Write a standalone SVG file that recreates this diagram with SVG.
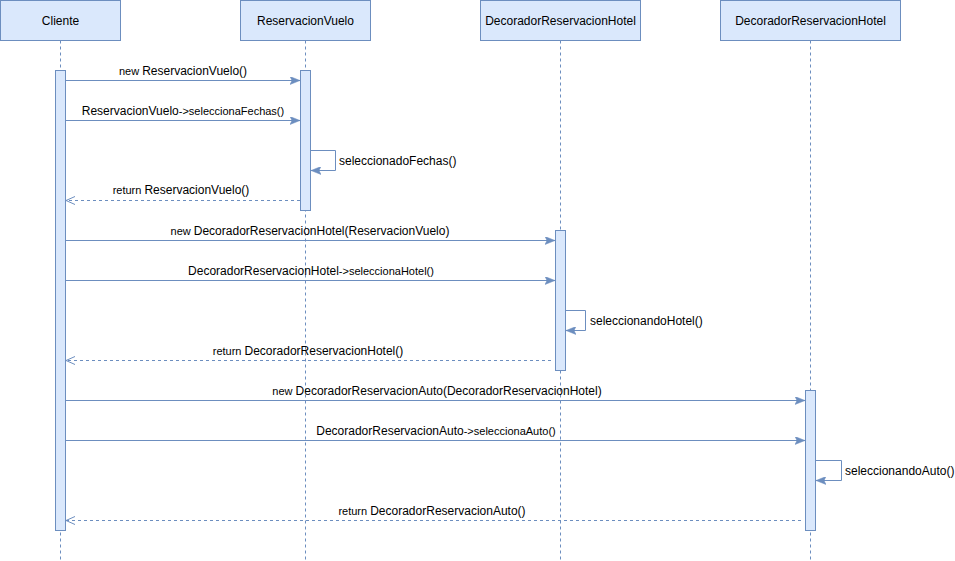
<svg xmlns="http://www.w3.org/2000/svg" width="955" height="561" viewBox="0 0 955 561">
<style>
.box{fill:#dae8fc;stroke:#6c8ebf;stroke-width:1}
.life{stroke:#6c8ebf;stroke-width:1;stroke-dasharray:3 3;fill:none}
.act{fill:#dae8fc;stroke:#6c8ebf;stroke-width:1}
.msg{stroke:#6c8ebf;stroke-width:1;fill:none}
.ret{stroke:#6c8ebf;stroke-width:1;fill:none;stroke-dasharray:3 3}
text{font-family:"Liberation Sans",Arial,sans-serif;fill:#000}
.h{font-size:12px;text-anchor:middle}
.l{font-size:11px;text-anchor:middle}
.s{font-size:12px}
.b{font-size:12px}
</style>
<defs>
<marker id="arr" markerWidth="10" markerHeight="8" refX="10" refY="4" orient="auto" markerUnits="userSpaceOnUse">
<path d="M0,0 L10,4 L0,8 L2,4 Z" fill="#6c8ebf" stroke="#6c8ebf" stroke-width="0.5"/>
</marker>
<marker id="open" markerWidth="10" markerHeight="10" refX="10" refY="5" orient="auto" markerUnits="userSpaceOnUse">
<path d="M1,1 L10,5 L1,9" fill="none" stroke="#6c8ebf" stroke-width="1"/>
</marker>
</defs>

<g id="cliente">
<rect class="box" x="0.5" y="0.5" width="120" height="40"/>
<text class="h" x="60.5" y="24.5">Cliente</text>
<line class="life" x1="60.5" y1="40.5" x2="60.5" y2="560"/>
<rect class="act" x="55.5" y="70.5" width="10" height="460"/>
</g>

<g id="reservacionVuelo">
<rect class="box" x="240.5" y="0.5" width="130" height="40"/>
<text class="h" x="305.5" y="24.5">ReservacionVuelo</text>
<line class="life" x1="305.5" y1="40.5" x2="305.5" y2="560"/>
<rect class="act" x="300.5" y="70.5" width="10" height="140"/>
</g>

<g id="decoradorHotel">
<rect class="box" x="480.5" y="0.5" width="160" height="40"/>
<text class="h" x="560.5" y="24.5">DecoradorReservacionHotel</text>
<line class="life" x1="560.5" y1="40.5" x2="560.5" y2="560"/>
<rect class="act" x="555.5" y="230.5" width="10" height="140"/>
</g>

<g id="decoradorAuto">
<rect class="box" x="720.5" y="0.5" width="180" height="40"/>
<text class="h" x="810.5" y="24.5">DecoradorReservacionHotel</text>
<line class="life" x1="810.5" y1="40.5" x2="810.5" y2="560"/>
<rect class="act" x="805.5" y="390.5" width="10" height="140"/>
</g>

<g id="connectors">
<line class="msg" x1="65.5" y1="80.5" x2="300" y2="80.5" marker-end="url(#arr)"/>
<text class="l" x="183" y="75">new <tspan class="b">ReservacionVuelo()</tspan></text>

<line class="msg" x1="65.5" y1="120.5" x2="300" y2="120.5" marker-end="url(#arr)"/>
<text class="l" x="183" y="115"><tspan class="b">ReservacionVuelo</tspan>-&gt;seleccionaFechas()</text>

<polyline class="msg" points="310.5,150.5 335.5,150.5 335.5,170.5 311,170.5" marker-end="url(#arr)"/>
<text class="s" x="339" y="164.5">seleccionadoFechas()</text>

<line class="ret" x1="300" y1="200.5" x2="66" y2="200.5" marker-end="url(#open)"/>
<text class="l" x="181" y="194">return <tspan class="b">ReservacionVuelo()</tspan></text>

<line class="msg" x1="65.5" y1="240.5" x2="555" y2="240.5" marker-end="url(#arr)"/>
<text class="l" x="310" y="235">new <tspan class="b">DecoradorReservacionHotel(ReservacionVuelo)</tspan></text>

<line class="msg" x1="65.5" y1="280.5" x2="555" y2="280.5" marker-end="url(#arr)"/>
<text class="l" x="311" y="275"><tspan class="b">DecoradorReservacionHotel</tspan>-&gt;seleccionaHotel()</text>

<polyline class="msg" points="565.5,310.5 585.5,310.5 585.5,330.5 566,330.5" marker-end="url(#arr)"/>
<text class="s" x="590" y="325">seleccionandoHotel()</text>

<line class="ret" x1="551" y1="360.5" x2="66" y2="360.5" marker-end="url(#open)"/>
<text class="l" x="308" y="355">return <tspan class="b">DecoradorReservacionHotel()</tspan></text>

<line class="msg" x1="65.5" y1="400.5" x2="805" y2="400.5" marker-end="url(#arr)"/>
<text class="l" x="437" y="395">new <tspan class="b">DecoradorReservacionAuto(DecoradorReservacionHotel)</tspan></text>

<line class="msg" x1="65.5" y1="440.5" x2="805" y2="440.5" marker-end="url(#arr)"/>
<text class="l" x="436" y="435"><tspan class="b">DecoradorReservacionAuto</tspan>-&gt;seleccionaAuto()</text>

<polyline class="msg" points="815.5,460.5 841.5,460.5 841.5,480.5 816,480.5" marker-end="url(#arr)"/>
<text class="s" x="845" y="475">seleccionandoAuto()</text>

<line class="ret" x1="801" y1="520.5" x2="66" y2="520.5" marker-end="url(#open)"/>
<text class="l" x="432" y="515">return <tspan class="b">DecoradorReservacionAuto()</tspan></text>
</g>
</svg>
